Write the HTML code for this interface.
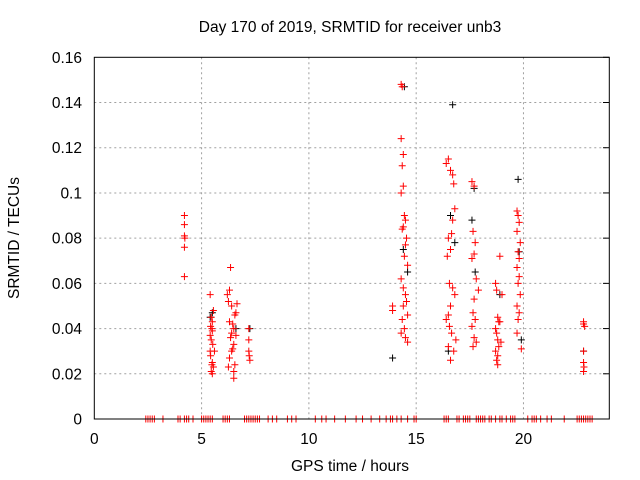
<!DOCTYPE html>
<html><head><meta charset="utf-8"><style>
body{margin:0;background:#fff}
svg{display:block;font-family:"Liberation Sans",sans-serif}
</style></head><body>
<svg id="c" width="640" height="480">
<text x="350" y="32" text-anchor="middle" font-size="15.5">Day 170 of 2019, SRMTID for receiver unb3</text>
<text x="350" y="471" text-anchor="middle" font-size="15.5">GPS time / hours</text>
<text transform="translate(19,238) rotate(-90)" text-anchor="middle" font-size="15.5">SRMTID / TECUs</text>
<g id="grid"></g><g id="ticks"></g><g id="marks"></g>
<rect x="94.3" y="57.3" width="515" height="361.7" fill="none" stroke="#000" stroke-width="1"/>
</svg>
<script>
const xTicks=[0,5,10,15,20];
const yTicks=[0,0.02,0.04,0.06,0.08,0.1,0.12,0.14,0.16];
const yTickLabels=["0","0.02","0.04","0.06","0.08","0.1","0.12","0.14","0.16"];
const blackTimes=[14.45,16.7,19.75,17.7,13.9,16.5,19.9,5.4,6.6,7.25,14.4,16.6,18.9,17.6,19.8,14.6,5.5,22.8,17.75,16.8];
const blackValues=[0.147,0.139,0.106,0.102,0.027,0.030,0.035,0.045,0.040,0.040,0.075,0.090,0.055,0.088,0.074,0.065,0.047,0.030,0.065,0.078];
const redTimes=[4.2,4.2,4.2,4.22,4.2,4.2,
5.4,5.45,5.5,5.42,5.48,5.55,5.4,5.5,5.45,5.52,5.6,5.42,5.5,5.48,5.55,5.45,5.5,5.4,
6.2,6.3,6.25,6.35,6.4,6.3,6.45,6.5,6.55,6.6,6.4,6.35,6.5,6.6,6.45,6.3,6.55,6.5,6.25,6.65,6.4,6.5,
7.2,7.2,7.2,7.22,7.25,
13.9,13.9,
14.3,14.35,14.3,14.4,14.35,14.4,14.3,14.45,14.5,14.4,14.35,14.55,14.5,14.45,14.6,14.3,14.4,14.5,14.55,14.6,14.35,14.45,14.5,14.3,14.6,14.4,
16.4,16.5,16.6,16.7,16.75,16.8,16.7,16.65,16.5,16.6,16.45,16.55,16.7,16.8,16.6,16.5,16.4,16.55,16.65,16.85,16.75,16.6,16.5,
17.6,17.7,17.65,17.75,17.7,17.6,17.8,17.9,17.7,17.65,17.75,17.6,17.7,17.8,17.65,
18.7,18.75,18.8,18.85,18.7,18.9,18.75,18.8,18.95,18.85,18.7,18.8,19.0,18.75,18.9,18.8,
19.7,19.75,19.8,19.7,19.85,19.75,19.8,19.7,19.8,19.75,19.85,19.7,19.8,19.75,19.7,19.9,
22.8,22.8,22.85,22.8,22.8,22.82,22.8];
const redValues=[0.090,0.086,0.081,0.080,0.076,0.063,
0.055,0.045,0.043,0.041,0.040,0.048,0.037,0.039,0.035,0.033,0.030,0.028,0.025,0.024,0.023,0.021,0.020,0.030,
0.055,0.057,0.052,0.067,0.050,0.043,0.042,0.040,0.046,0.047,0.038,0.036,0.033,0.037,0.031,0.027,0.024,0.021,0.023,0.051,0.030,0.018,
0.040,0.035,0.030,0.028,0.026,
0.050,0.048,
0.148,0.147,0.124,0.117,0.112,0.103,0.100,0.090,0.088,0.085,0.084,0.080,0.077,0.072,0.068,0.062,0.058,0.055,0.052,0.046,0.044,0.040,0.036,0.038,0.034,0.050,
0.113,0.115,0.110,0.108,0.104,0.093,0.088,0.082,0.080,0.075,0.072,0.060,0.058,0.055,0.050,0.046,0.044,0.041,0.038,0.035,0.030,0.026,0.032,
0.105,0.103,0.083,0.078,0.073,0.071,0.062,0.057,0.053,0.047,0.044,0.041,0.036,0.034,0.032,
0.060,0.057,0.045,0.043,0.040,0.072,0.038,0.035,0.034,0.032,0.030,0.028,0.055,0.026,0.043,0.024,
0.092,0.090,0.087,0.083,0.078,0.074,0.071,0.067,0.063,0.060,0.055,0.050,0.047,0.044,0.038,0.031,
0.043,0.042,0.041,0.030,0.025,0.023,0.021];
const zeroTimes=[2.4,2.5,2.6,2.7,2.8,3.2,3.9,4.0,4.2,4.3,4.4,4.6,5.0,5.1,5.2,5.3,5.4,5.5,6.0,6.1,6.2,6.3,7.0,7.1,7.2,7.3,7.4,7.5,7.6,7.7,8.1,8.3,8.5,
9.0,9.2,9.4,10.3,10.6,10.8,11.2,11.7,12.2,12.5,12.9,13.3,13.6,13.8,13.9,14.1,14.3,14.6,14.9,15.0,16.3,16.4,16.5,16.9,17.0,17.2,17.3,17.4,17.5,17.8,17.9,18.0,18.1,18.2,18.4,18.5,18.7,18.9,19.0,19.2,19.4,19.5,19.6,20.2,20.4,20.5,20.6,20.8,21.1,21.3,21.9,22.5,22.6,22.7,22.8,22.9,23.0,23.1,23.2];
const X=v=>94.3+v*(515/24);
const Y=v=>419-v*(361.7/0.16);
const NS="http://www.w3.org/2000/svg";
const grid=document.getElementById('grid'),ticks=document.getElementById('ticks'),marks=document.getElementById('marks');
function mk(tag,attrs,parent){const e=document.createElementNS(NS,tag);for(const k in attrs)e.setAttribute(k,attrs[k]);parent.appendChild(e);return e;}
xTicks.forEach(t=>{
 if(t>0){const g=mk('line',{x1:X(t),x2:X(t),y1:57.3,y2:419,stroke:'#a0a0a0','stroke-dasharray':'2,3'},grid);
 
 }
 const l=mk('text',{x:X(t),y:444,'text-anchor':'middle','font-size':15.5},ticks);l.textContent=t;
 
 
});
yTicks.forEach((t,i)=>{
 if(i>0&&i<yTicks.length-1){const g=mk('line',{x1:94.3,x2:609.3,y1:Y(t),y2:Y(t),stroke:'#a0a0a0','stroke-dasharray':'2,3'},grid);
 
 }
 mk('line',{x1:603,x2:609.3,y1:Y(t),y2:Y(t),stroke:'#000'},ticks);
 const l=mk('text',{x:82,y:Y(t)+5.5,'text-anchor':'end','font-size':15.5},ticks);l.textContent=yTickLabels[i];
 
 
});
function plus(x,y,col,name){const p=mk('path',{d:`M${x-3.5},${y}h7M${x},${y-3.5}v7`,stroke:col,'stroke-width':1,fill:'none'},marks);
 
 }
blackTimes.forEach((t,i)=>plus(X(t),Y(blackValues[i]),'#000','black-point'));
redTimes.forEach((t,i)=>plus(X(t),Y(redValues[i]),'#ff0000','red-point'));
zeroTimes.forEach(t=>plus(X(t),Y(0),'#ff0000','zero-point'));
</script>
</body></html>
